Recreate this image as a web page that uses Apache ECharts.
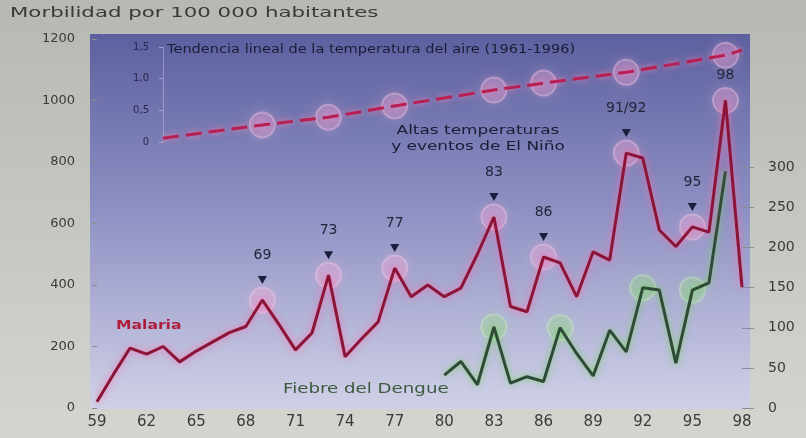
<!DOCTYPE html>
<html><head><meta charset="utf-8">
<script src="https://cdn.jsdelivr.net/npm/echarts@6/dist/echarts.min.js"></script>
<style>html,body{margin:0;padding:0;background:#c6c8c2}#c{width:806px;height:438px}</style>
</head><body><div id="c"></div>
<script>
const years = ['1959','1960','1961','1962','1963','1964','1965','1966','1967','1968','1969','1970','1971','1972','1973','1974','1975','1976','1977','1978','1979','1980','1981','1982','1983','1984','1985','1986','1987','1988','1989','1990','1991','1992','1993','1994','1995','1996','1997','1998'];
const malaria = [20,110,195,175,200,150,185,215,245,265,351,272,189,244,432,167,225,280,455,362,400,362,390,500,621,330,313,491,472,362,508,481,829,813,579,525,589,572,1000,393];
const dengue = [null,null,null,null,null,null,null,null,null,null,null,null,null,null,null,null,null,null,null,null,null,41,58,29,101,31,39,33,100,68,40,97,70,150,147,56,147,156,295,null];
const tempYears = [1963,1969,1973,1977,1983,1986,1991,1997,1998];
const tempValues = [0.06,0.27,0.39,0.57,0.82,0.93,1.10,1.37,1.45];
const tempGlowYears = [1969,1973,1977,1983,1986,1991,1997];
const malariaPeaks = ['1969','1973','1977','1983','1986','1991','1995','1997'];
const malariaPeakLabels = ['69','73','77','83','86','91/92','95','98'];
const denguePeaks = ['1983','1987','1992','1995'];
const leftTicks = [0,200,400,600,800,1000,1200];
const rightTicks = [0,50,100,150,200,250,300];
const tempTicks = [0,0.5,1,1.5];
const tempTickLabels = ['0','0,5','1,0','1,5'];

const chart = echarts.init(document.getElementById('c'));
const FONT = 'DejaVu Sans';
const tri = 'path://M0,0 L10,0 L5,8 Z';

const malariaMarks = malariaPeaks.map((y, i) => {
  const v = malaria[years.indexOf(y)];
  const last = malariaPeakLabels[i] === '98';
  return {
    coord: [y, v],
    value: malariaPeakLabels[i],
    symbol: last ? 'circle' : tri,
    symbolSize: last ? 1 : [9, 8],
    symbolOffset: last ? [0, -16] : [0, -20],
    itemStyle: {color: last ? 'rgba(0,0,0,0)' : '#1c1e3e'},
    label: {show: true, position: 'top', distance: last ? 2 : 14, formatter: '{c}',
      color: '#23253a', fontSize: 14, fontFamily: FONT}
  };
});

const glow = (color, border, shadow) => ({
  color: color, borderColor: border, borderWidth: 2, shadowBlur: 10, shadowColor: shadow
});

chart.setOption({
  backgroundColor: {type: 'linear', x: 0, y: 0, x2: 0, y2: 1,
    colorStops: [{offset: 0, color: '#b6b8b2'}, {offset: 1, color: '#d3d5cf'}]},
  animation: false,
  grid: [
    {left: 97, right: 64, top: 39, bottom: 30},
    {left: 163, right: 64, top: 47, height: 95}
  ],
  xAxis: [
    {type: 'category', data: years, boundaryGap: false, gridIndex: 0,
      axisLine: {show: false}, axisTick: {show: false},
      axisLabel: {interval: 2, formatter: v => v.slice(2), fontSize: 15, color: '#3a3a3a', margin: 7, fontFamily: FONT}},
    {type: 'value', gridIndex: 1, min: 1963, max: 1998, show: false}
  ],
  yAxis: [
    {type: 'value', gridIndex: 0, min: 0, max: 1200, interval: 200,
      axisLine: {show: false}, axisTick: {show: true, length: 5, lineStyle: {color: '#8a8c88'}},
      splitLine: {show: false},
      axisLabel: {formatter: v => String(v), fontSize: 13, color: '#3a3a3a', margin: 22, fontFamily: FONT}},
    {type: 'value', gridIndex: 0, position: 'right', min: 0, max: 460,
      axisLine: {show: false},
      axisTick: {show: true, length: 12, customValues: rightTicks, lineStyle: {color: '#8a8c98'}},
      splitLine: {show: false},
      axisLabel: {customValues: rightTicks, formatter: v => String(v), fontSize: 14, color: '#3a3a3a', margin: 26, fontFamily: FONT}},
    {type: 'value', gridIndex: 1, min: 0, max: 1.5, interval: 0.5,
      axisLine: {show: true, lineStyle: {color: 'rgba(200,200,235,0.45)'}},
      axisTick: {show: true, length: 4, lineStyle: {color: 'rgba(200,200,235,0.6)'}},
      splitLine: {show: false},
      axisLabel: {formatter: v => tempTickLabels[tempTicks.indexOf(v)], fontSize: 10, color: '#25284f', margin: 14, fontFamily: FONT}}
  ],
  graphic: [
    {type: 'rect', z: -10, shape: {x: 90, y: 34, width: 660, height: 375},
      style: {fill: {type: 'linear', x: 0, y: 0, x2: 0, y2: 1,
        colorStops: [{offset: 0, color: '#5d609f'}, {offset: 0.45, color: '#8c8ec2'}, {offset: 1, color: '#d0d1e7'}]}}},
    {type: 'text', x: 10, y: 6, scaleX: 1.52, z: 100,
      style: {text: 'Morbilidad por 100 000 habitantes', font: '14px "DejaVu Sans"', fill: '#3a3a3a'}},
    {type: 'text', x: 167, y: 43, scaleX: 1.12, z: 100,
      style: {text: 'Tendencia lineal de la temperatura del aire (1961-1996)', font: '13px "DejaVu Sans"', fill: '#1b1c35'}},
    {type: 'text', x: 478, y: 123, scaleX: 1.3, z: 100,
      style: {text: 'Altas temperaturas\ny eventos de El Niño', font: '13px "DejaVu Sans"', fill: '#1b1c35', align: 'center', lineHeight: 16}},
    {type: 'text', x: 116, y: 320, scaleX: 1.3, z: 100,
      style: {text: 'Malaria', font: 'bold 12px "DejaVu Sans"', fill: '#b01c3c', shadowBlur: 4, shadowColor: 'rgba(255,160,200,0.9)'}},
    {type: 'text', x: 283, y: 382, scaleX: 1.3, z: 100,
      style: {text: 'Fiebre del Dengue', font: '14px "DejaVu Sans"', fill: '#3b5a3e'}}
  ],
  series: [
    {type: 'scatter', name: 'glowM', xAxisIndex: 0, yAxisIndex: 0, z: 2, symbolSize: 25,
      data: malariaPeaks.map(y => [y, malaria[years.indexOf(y)]]),
      itemStyle: glow('rgba(255,170,215,0.3)', 'rgba(255,210,235,0.45)', 'rgba(255,180,220,0.8)')},
    {type: 'scatter', name: 'glowD', xAxisIndex: 0, yAxisIndex: 1, z: 2, symbolSize: 25,
      data: denguePeaks.map(y => [y, dengue[years.indexOf(y)]]),
      itemStyle: glow('rgba(150,225,120,0.3)', 'rgba(210,245,200,0.45)', 'rgba(160,230,140,0.8)')},
    {type: 'scatter', name: 'glowT', xAxisIndex: 1, yAxisIndex: 2, z: 2, symbolSize: 25,
      data: tempGlowYears.map(y => [y, tempValues[tempYears.indexOf(y)]]),
      itemStyle: glow('rgba(255,170,215,0.3)', 'rgba(255,210,235,0.45)', 'rgba(255,180,220,0.8)')},
    {type: 'line', name: 'Temperatura', xAxisIndex: 1, yAxisIndex: 2, z: 3, symbol: 'none',
      data: tempYears.map((y, i) => [y, tempValues[i]]),
      lineStyle: {color: '#b81f52', width: 3, type: [16, 7], shadowBlur: 6, shadowColor: 'rgba(255,130,180,0.9)'}},
    {type: 'line', name: 'Dengue', xAxisIndex: 0, yAxisIndex: 1, z: 3, symbol: 'none',
      data: dengue,
      lineStyle: {color: '#2f4a36', width: 3, shadowBlur: 6, shadowColor: 'rgba(120,210,100,0.95)'}},
    {type: 'line', name: 'Malaria', xAxisIndex: 0, yAxisIndex: 0, z: 4, symbol: 'none',
      data: malaria,
      lineStyle: {color: '#8a1538', width: 3, shadowBlur: 7, shadowColor: 'rgba(255,110,170,0.95)'},
      markPoint: {data: malariaMarks}}
  ]
});
</script></body></html>
